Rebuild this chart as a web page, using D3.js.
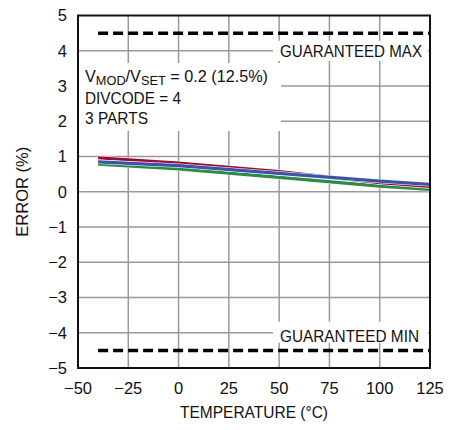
<!DOCTYPE html>
<html>
<head>
<meta charset="utf-8">
<script src="https://cdn.jsdelivr.net/npm/d3@7"></script>
<style>
  body { margin: 0; background: #fff; }
  svg text { font-family: "Liberation Sans Narrow", "Arial Narrow", "Liberation Sans", sans-serif; fill: #111; }
</style>
</head>
<body>
<div id="chart"></div>
<script>
// temperature points
var temps = [-40, 0, 50, 100, 125];
var partA = [0.96, 0.81, 0.57, 0.26, 0.15];  // red
var partB = [0.85, 0.74, 0.52, 0.30, 0.21];  // blue
var partC = [0.78, 0.65, 0.41, 0.16, 0.07];  // green
var seriesNames = ["partC", "partA", "partB"];  // drawing order
var seriesColors = { partA: "#9e0b3b", partB: "#3a55a6", partC: "#2f8a48" };

var xTicks = [-50, -25, 0, 25, 50, 75, 100, 125];
var yTicks = [-5, -4, -3, -2, -1, 0, 1, 2, 3, 4, 5];
var guarMax = 4.5, guarMin = -4.5;
var limitStart = -40;

var seriesData = { partA: partA, partB: partB, partC: partC };

var svgWidth = 460, svgHeight = 430;
var margin = { top: 15.5, right: 30, bottom: 62, left: 78 };
var width = svgWidth - margin.left - margin.right;
var height = svgHeight - margin.top - margin.bottom;

var svg = d3.select("#chart")
  .append("svg")
  .attr("width", svgWidth)
  .attr("height", svgHeight)
  .append("g")
  .attr("transform", "translate(" + margin.left + "," + margin.top + ")");

var x = d3.scaleLinear().domain([-50, 125]).range([0, width]);
var y = d3.scaleLinear().domain([-5, 5]).range([height, 0]);

// grid
svg.append("g")
  .selectAll("line")
  .data(xTicks.slice(1, -1))
  .enter().append("line")
  .attr("x1", function(d) { return x(d); })
  .attr("x2", function(d) { return x(d); })
  .attr("y1", 0).attr("y2", height)
  .style("stroke", "#999").style("stroke-width", 1.5);

svg.append("g")
  .selectAll("line")
  .data(yTicks.slice(1, -1))
  .enter().append("line")
  .attr("x1", 0).attr("x2", width)
  .attr("y1", function(d) { return y(d); })
  .attr("y2", function(d) { return y(d); })
  .style("stroke", "#999").style("stroke-width", 1.5);

// white boxes behind labels
svg.append("rect")
  .attr("x", 1).attr("y", 47.5)
  .attr("width", 202).attr("height", 68)
  .attr("fill", "#fff");
svg.append("rect")
  .attr("x", 195).attr("y", y(4) - 10)
  .attr("width", 155).attr("height", 20)
  .attr("fill", "#fff");
svg.append("rect")
  .attr("x", 195).attr("y", y(-4) - 11)
  .attr("width", 155).attr("height", 21)
  .attr("fill", "#fff");

// guaranteed limits
[guarMax, guarMin].forEach(function(v) {
  svg.append("line")
    .attr("x1", x(limitStart)).attr("x2", x(125))
    .attr("y1", y(v)).attr("y2", y(v))
    .style("stroke", "#000")
    .style("stroke-width", 3.5)
    .style("stroke-dasharray", "10,5");
});

// data lines
var line = d3.line()
  .x(function(d, i) { return x(temps[i]); })
  .y(function(d) { return y(d); });

seriesNames.forEach(function(name) {
  svg.append("path")
    .datum(seriesData[name])
    .attr("fill", "none")
    .attr("stroke", "#fff")
    .attr("stroke-width", 4.4)
    .attr("d", line);
  svg.append("path")
    .datum(seriesData[name])
    .attr("fill", "none")
    .attr("stroke", seriesColors[name])
    .attr("stroke-width", 3.2)
    .attr("d", line);
});

// frame
svg.append("rect")
  .attr("x", 0).attr("y", 0)
  .attr("width", width).attr("height", height)
  .attr("fill", "none")
  .style("stroke", "#111").style("stroke-width", 2);

// tick labels
svg.append("g")
  .selectAll("text")
  .data(yTicks)
  .enter().append("text")
  .attr("x", -11)
  .attr("y", function(d) { return y(d); })
  .attr("dy", "0.36em")
  .attr("text-anchor", "end")
  .style("font-size", "16.5px")
  .text(function(d) { return d < 0 ? "\u2212" + Math.abs(d) : d; });

svg.append("g")
  .selectAll("text")
  .data(xTicks)
  .enter().append("text")
  .attr("x", function(d) { return x(d); })
  .attr("y", height + 25.5)
  .attr("text-anchor", "middle")
  .style("font-size", "16.5px")
  .text(function(d) { return d < 0 ? "\u2212" + Math.abs(d) : d; });

// squeeze text to look like the narrow face of the original
function label(sel, px, len) {
  return sel.style("font-size", px + "px")
    .attr("textLength", len)
    .attr("lengthAdjust", "spacingAndGlyphs");
}

// axis titles
label(svg.append("text")
  .attr("x", width / 2 - 74)
  .attr("y", height + 50)
  .text("TEMPERATURE (°C)"), 16.5, 148);

label(svg.append("text")
  .attr("transform", "translate(" + (-50) + "," + (height / 2 + 45) + ") rotate(-90)")
  .text("ERROR (%)"), 16.5, 90);

// limit labels
label(svg.append("text")
  .attr("x", 202).attr("y", y(4) + 6)
  .text("GUARANTEED MAX"), 16.5, 142);

label(svg.append("text")
  .attr("x", 202).attr("y", y(-4) + 9)
  .text("GUARANTEED MIN"), 16.5, 139);

// condition note
var note = label(svg.append("text")
  .attr("x", 7).attr("y", 66.8), 16.5, 183);
note.append("tspan").text("V");
note.append("tspan").attr("dy", 3).style("font-size", "13px").text("MOD");
note.append("tspan").attr("dy", -3).text("/V");
note.append("tspan").attr("dy", 3).style("font-size", "13px").text("SET");
note.append("tspan").attr("dy", -3).text(" = 0.2 (12.5%)");

label(svg.append("text")
  .attr("x", 7).attr("y", 88.3)
  .text("DIVCODE = 4"), 16.5, 96);

label(svg.append("text")
  .attr("x", 7).attr("y", 108)
  .text("3 PARTS"), 16.5, 63);
</script>
</body>
</html>
